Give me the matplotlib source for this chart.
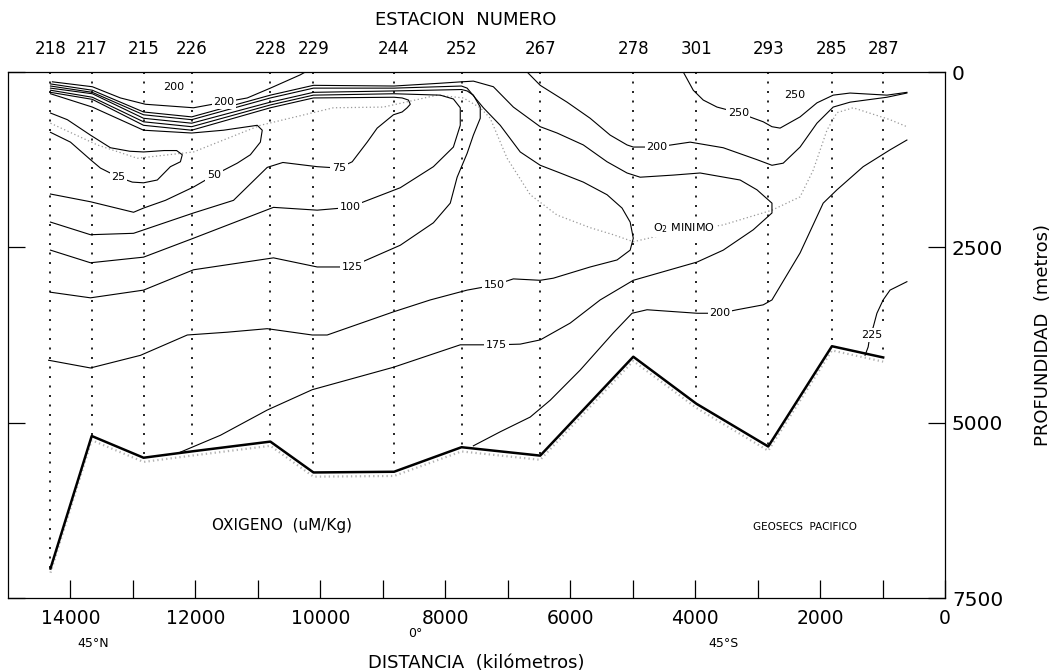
import matplotlib.pyplot as plt
import numpy as np

# GEOSECS Pacific oxygen section
stations = ["218", "217", "215", "226", "228", "229", "244", "252",
            "267", "278", "301", "293", "285", "287"]
station_km = [14320, 13660, 12830, 12060, 10800, 10110, 8820, 7740,
              6480, 4990, 3980, 2830, 1810, 990]
bottom_m = [7080, 5190, 5500, 5410, 5270, 5710, 5700, 5350,
            5470, 4060, 4730, 5340, 3910, 4070]

# isolines as (distance km, depth m)
iso_25 = [(14320, 585), (14050, 680), (13680, 900), (13360, 1080), (13050, 1130),
          (12830, 1140), (12500, 1120), (12300, 1120), (12210, 1180), (12240, 1280),
          (12400, 1350), (12610, 1540), (12830, 1580), (13010, 1570), (13230, 1500),
          (13520, 1370), (13680, 1250), (14000, 1000), (14320, 860)]
iso_50 = [(14320, 310), (13650, 500), (12830, 830), (12060, 870), (11550, 830),
          (11010, 760), (10930, 830), (10960, 1000), (11120, 1180), (11330, 1300),
          (11700, 1470), (12030, 1640), (12480, 1830), (12830, 1940), (12990, 2000),
          (13680, 1850), (14320, 1740)]
iso_75 = [(14320, 290), (13650, 390), (12830, 760), (12060, 830), (10800, 510),
          (10110, 370), (8820, 360), (8690, 370), (8590, 400), (8560, 460),
          (8610, 510), (8690, 570), (8830, 610), (9090, 800), (9250, 1000),
          (9490, 1280), (9700, 1370), (10050, 1350), (10600, 1290), (10850, 1360),
          (11390, 1830), (12030, 2010), (12990, 2300), (13680, 2320), (14320, 2140)]
iso_100 = [(14320, 260), (13650, 360), (12830, 710), (12060, 780), (10800, 470),
           (10110, 330), (8820, 310), (8080, 330), (7870, 385), (7760, 510),
           (7760, 760), (7870, 1070), (8190, 1350), (8720, 1650), (9360, 1870),
           (9520, 1930), (10050, 1970), (10750, 1930), (12030, 2370), (12830, 2640),
           (13680, 2720), (14320, 2540)]
iso_125 = [(14320, 230), (13650, 310), (12830, 660), (12060, 730), (10800, 430),
           (10110, 290), (8820, 270), (7740, 250), (7650, 270), (7550, 330),
           (7440, 500), (7440, 660), (7550, 900), (7650, 1160), (7810, 1500),
           (7920, 1870), (8190, 2150), (8720, 2470), (9360, 2720), (9570, 2780),
           (10050, 2780), (10750, 2650), (12030, 2820), (12830, 3110), (13680, 3220),
           (14320, 3140)]
iso_150 = [(14320, 200), (13650, 290), (12830, 610), (12060, 680), (10800, 370),
           (10110, 230), (8820, 230), (7740, 200), (7650, 230), (7390, 510),
           (7120, 760), (6800, 1140), (6480, 1330), (6160, 1440), (5790, 1570),
           (5410, 1750), (5170, 1940), (5040, 2140), (4990, 2370), (5040, 2540),
           (5250, 2680), (5680, 2780), (6270, 2940), (6480, 2970), (6910, 2950),
           (7220, 3040), (7650, 3110), (8240, 3250), (8830, 3420), (9890, 3750),
           (10130, 3750), (10850, 3660), (11490, 3710), (12130, 3750), (12880, 4040),
           (13680, 4220), (14350, 4110)]
iso_175 = [(14320, 170), (13650, 260), (12830, 570), (12060, 640), (10800, 330),
           (10110, 190), (8820, 200), (8080, 160), (7740, 140), (7550, 130),
           (7230, 210), (6910, 500), (6480, 780), (6210, 870), (5790, 1040),
           (5410, 1280), (5090, 1440), (4880, 1500), (4350, 1470), (3920, 1440),
           (3280, 1540), (3010, 1680), (2770, 1870), (2770, 2010), (3070, 2250),
           (3550, 2540), (3970, 2710), (4990, 2970), (5520, 3250), (6000, 3580),
           (6480, 3820), (6800, 3880), (7170, 3890), (7760, 3890), (8830, 4210),
           (10130, 4530), (10850, 4820), (11600, 5180), (12240, 5420)]
iso_200_north = [(14290, 140), (13650, 210), (13200, 370), (12800, 460), (12030, 510),
                 (11540, 430), (11170, 370), (10800, 230), (10320, 40), (10240, 0)]
iso_200_upper = [(6690, 0), (6480, 190), (6050, 430), (5680, 660), (5360, 900),
                 (5090, 1040), (4990, 1070), (4610, 1070), (4080, 1000), (3550, 1080),
                 (3010, 1250), (2770, 1330), (2590, 1300), (2320, 1070), (2050, 730),
                 (1790, 500), (1520, 430), (930, 360), (610, 300)]
iso_200_deep = [(7550, 5330), (7120, 5130), (6640, 4920), (6320, 4680), (5840, 4250),
                (5310, 3720), (5010, 3440), (4770, 3390), (3970, 3440), (3600, 3440),
                (3330, 3390), (2910, 3320), (2770, 3250), (2320, 2580), (1950, 1870),
                (1730, 1680), (1310, 1350), (880, 1110), (610, 970)]
iso_225 = [(610, 2990), (880, 3110), (990, 3250), (1090, 3440), (1150, 3640),
           (1200, 3750), (1230, 3920), (1280, 4040)]
iso_250 = [(4190, 0), (4030, 260), (3870, 400), (3650, 500), (3310, 580),
           (2910, 710), (2770, 780), (2640, 800), (2320, 640), (2050, 440),
           (1790, 330), (1520, 300), (930, 330), (610, 290)]
o2_min = [(14320, 730), (13570, 1040), (12930, 1230), (12030, 1140), (10960, 760),
          (9790, 510), (8990, 500), (8130, 330), (7710, 370), (7440, 510),
          (7280, 660), (7010, 1230), (6640, 1750), (6210, 2040), (5680, 2220),
          (5310, 2320), (4990, 2420), (4400, 2300), (3550, 2180), (2770, 1970),
          (2320, 1780), (2110, 1400), (1890, 830), (1730, 580), (1470, 510),
          (880, 680), (610, 780)]

iso_labels = [("200", 11540, 428), ("25", 13230, 1500), ("50", 11700, 1470),
              ("75", 9700, 1370), ("100", 9520, 1925), ("125", 9490, 2780),
              ("150", 7220, 3040), ("175", 7180, 3890), ("200", 4610, 1070),
              ("200", 3600, 3440), ("250", 3310, 585), ("225", 1170, 3750)]
free_labels = [("200", 12340, 214), ("250", 2400, 330)]

fig = plt.figure(figsize=(10.6, 6.72), dpi=100)
ax = fig.add_axes([8 / 1060, 74 / 672, 937 / 1060, 526 / 672])
ax.set_xlim(15000, 0)
ax.set_ylim(7500, 0)

# station casts
for km, depth in zip(station_km, bottom_m):
    ax.plot([km, km], [0, depth], color="black", lw=1.2,
            linestyle=(0, (1.2, 4.5)), zorder=1)

# sea floor
ax.plot(station_km, np.array(bottom_m) + 60, color="grey", lw=1.6,
        linestyle=(0, (0.6, 1.4)), alpha=0.6, zorder=2)
ax.plot(station_km, bottom_m, color="black", lw=1.8, zorder=4)

isolines = [iso_25, iso_50, iso_75, iso_100, iso_125, iso_150, iso_175,
            iso_200_north, iso_200_upper, iso_200_deep, iso_225, iso_250]
for line in isolines:
    km, m = zip(*line)
    ax.plot(km, m, color="black", lw=0.8, solid_joinstyle="round", zorder=3)

km, m = zip(*o2_min)
ax.plot(km, m, color="#999999", lw=0.9, linestyle=(0, (1, 2)), zorder=2)

box = dict(boxstyle="square,pad=0.15", fc="white", ec="none")
for txt, km, m in iso_labels:
    ax.text(km, m, txt, fontsize=8, ha="center", va="center", bbox=box, zorder=5)
for txt, km, m in free_labels:
    ax.text(km, m, txt, fontsize=8, ha="center", va="center", zorder=5)
ax.text(4176, 2225, "O$_2$ MINIMO", fontsize=8, ha="center", va="center",
        bbox=box, zorder=5)
ax.text(10608, 6460, "OXIGENO  (uM/Kg)", fontsize=11, ha="center", va="center")
ax.text(2240, 6490, "GEOSECS  PACIFICO", fontsize=7.5, ha="center", va="center")

# station numbers along the top
for name, km in zip(stations, station_km):
    ax.text(km, 1.044, name, fontsize=12, ha="center", va="center",
            transform=ax.get_xaxis_transform())
fig.text(466 / 1060, 1 - 20 / 672, "ESTACION  NUMERO", fontsize=13,
         ha="center", va="center")

for txt, km, y in [("45°N", 13630, -0.086), ("0°", 8480, -0.068), ("45°S", 3550, -0.086)]:
    ax.text(km, y, txt, fontsize=9, ha="center", va="center",
            transform=ax.get_xaxis_transform())

ax.set_xticks(range(0, 15000, 2000))
ax.set_xticks(range(1000, 15000, 2000), minor=True)
ax.set_yticks([0, 2500, 5000, 7500])
ax.tick_params(axis="x", which="both", direction="in", length=13, width=0.9,
               top=False, labelsize=13.5, pad=8)
ax.tick_params(axis="y", direction="in", length=12, width=0.9, left=True,
               right=True, labelleft=False, labelright=True, labelsize=14.5, pad=5)
for s in ax.spines.values():
    s.set_linewidth(0.9)

ax.set_xlabel("DISTANCIA  (kilómetros)", fontsize=13, labelpad=19)
ax.yaxis.set_label_position("right")
ax.set_ylabel("PROFUNDIDAD  (metros)", fontsize=13, labelpad=22)

fig.savefig("out.png", dpi=100)
